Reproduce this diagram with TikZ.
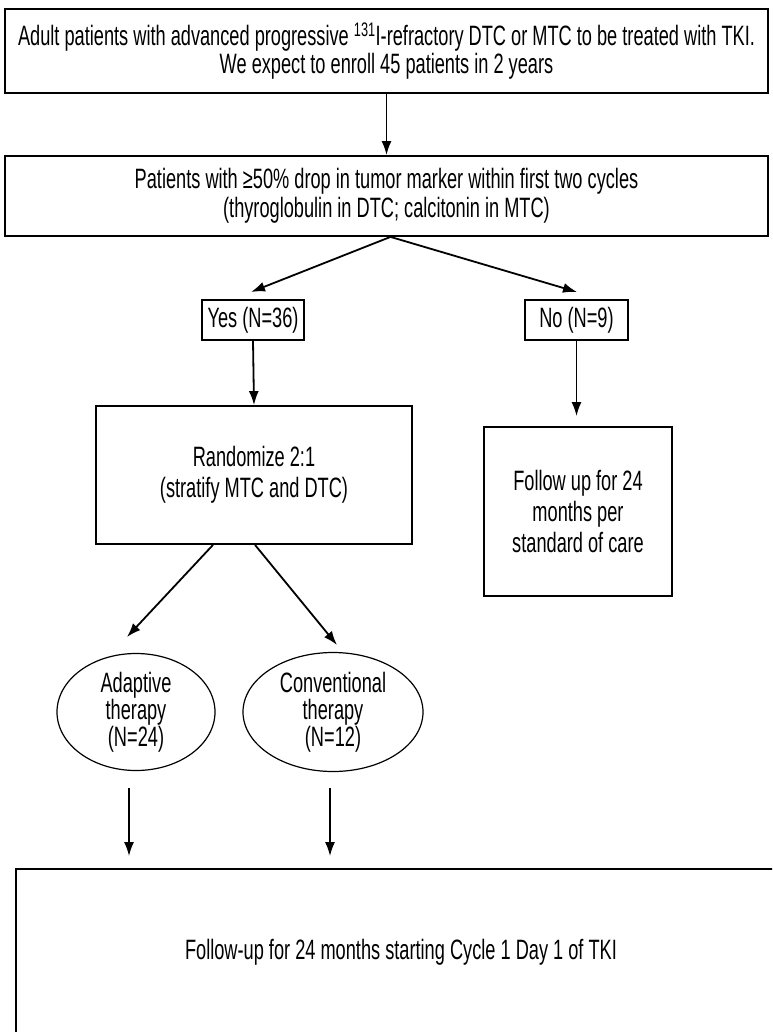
\documentclass[tikz,border=0pt]{standalone}
\usepackage{fontspec}
\setmainfont[FakeStretch=0.65]{Liberation Sans}
\usetikzlibrary{shapes.geometric,arrows.meta}

\tikzset{
  box/.style={draw, line width=1.8pt, align=center, inner sep=0pt},
  oval/.style={draw, ellipse, line width=1.2pt, align=center, inner sep=0pt},
  link/.style={line width=1.8pt},
  arr/.style={link, -{Latex[length=14pt,width=10pt]}},
}

\begin{document}
\begin{tikzpicture}[x=1pt, y=-1pt, font=\fontsize{28}{31}\selectfont]
    % Page frame (the bottom box runs off the page)
    \useasboundingbox (0,0) rectangle (772,1032);
    \clip (0,0) rectangle (772,1032);

    % Enrollment and tumor marker screen
    \node[box, minimum width=763pt, minimum height=84pt, font=\fontsize{28}{28}\selectfont] (enroll) at (386.5,51)
        {Adult patients with advanced progressive \textsuperscript{131}I-refractory DTC or MTC to be treated with TKI.\\
         We expect to enroll 45 patients in 2 years};
    \node[box, minimum width=763pt, minimum height=80pt, font=\fontsize{28}{29}\selectfont] (screen) at (386.5,196)
        {Patients with ≥50\% drop in tumor marker within first two cycles\\
         (thyroglobulin in DTC; calcitonin in MTC)};

    % Responders / non-responders
    \node[box, minimum width=102pt, minimum height=40pt] (yes) at (253,320) {Yes (N=36)};
    \node[box, minimum width=103pt, minimum height=40pt] (no) at (576.5,320) {No (N=9)};

    \node[box, minimum width=316pt, minimum height=138pt] (rand) at (254,475)
        {Randomize 2:1\\(stratify MTC and DTC)};
    \node[box, minimum width=188pt, minimum height=169pt] (fup) at (578,511.5)
        {Follow up for 24\\months per\\standard of care};

    % Treatment arms
    \node[oval, minimum width=158pt, minimum height=117pt, font=\fontsize{28}{27}\selectfont] (adapt) at (136,712)
        {Adaptive\\therapy\\(N=24)};
    \node[oval, minimum width=180pt, minimum height=119pt, font=\fontsize{28}{27}\selectfont] (conv) at (333,712)
        {Conventional\\therapy\\(N=12)};

    % Common follow-up
    \node[box, minimum width=770pt, minimum height=167pt] (final) at (401,952.5)
        {Follow-up for 24 months starting Cycle 1 Day 1 of TKI};

    % Arrow ends that stop short of their boxes
    \coordinate (yestip) at (251,292);
    \coordinate (notip) at (577,292);
    \coordinate (adtip) at (127,637);
    \coordinate (cotip) at (337,645);

    % Connectors
    \draw[arr] (enroll.south) -- (screen.north);
    \draw[arr] ([xshift=4pt]screen.south) -- (yestip);
    \draw[arr] ([xshift=4pt]screen.south) -- (notip);
    \draw[arr] (yes.south) -- (rand.north);
    \draw[arr, shorten >=10pt] (no.south) -- (no.south |- fup.north);
    \draw[arr] ([xshift=-41pt]rand.south) -- (adtip);
    \draw[arr] ([xshift=1pt]rand.south) -- (cotip);
    \draw[arr, shorten <=17pt, shorten >=12pt] ([xshift=-7pt]adapt.south) -- ([xshift=-7pt]adapt.south |- final.north);
    \draw[arr, shorten <=16pt, shorten >=12pt] ([xshift=-3pt]conv.south) -- ([xshift=-3pt]conv.south |- final.north);
\end{tikzpicture}
\end{document}
